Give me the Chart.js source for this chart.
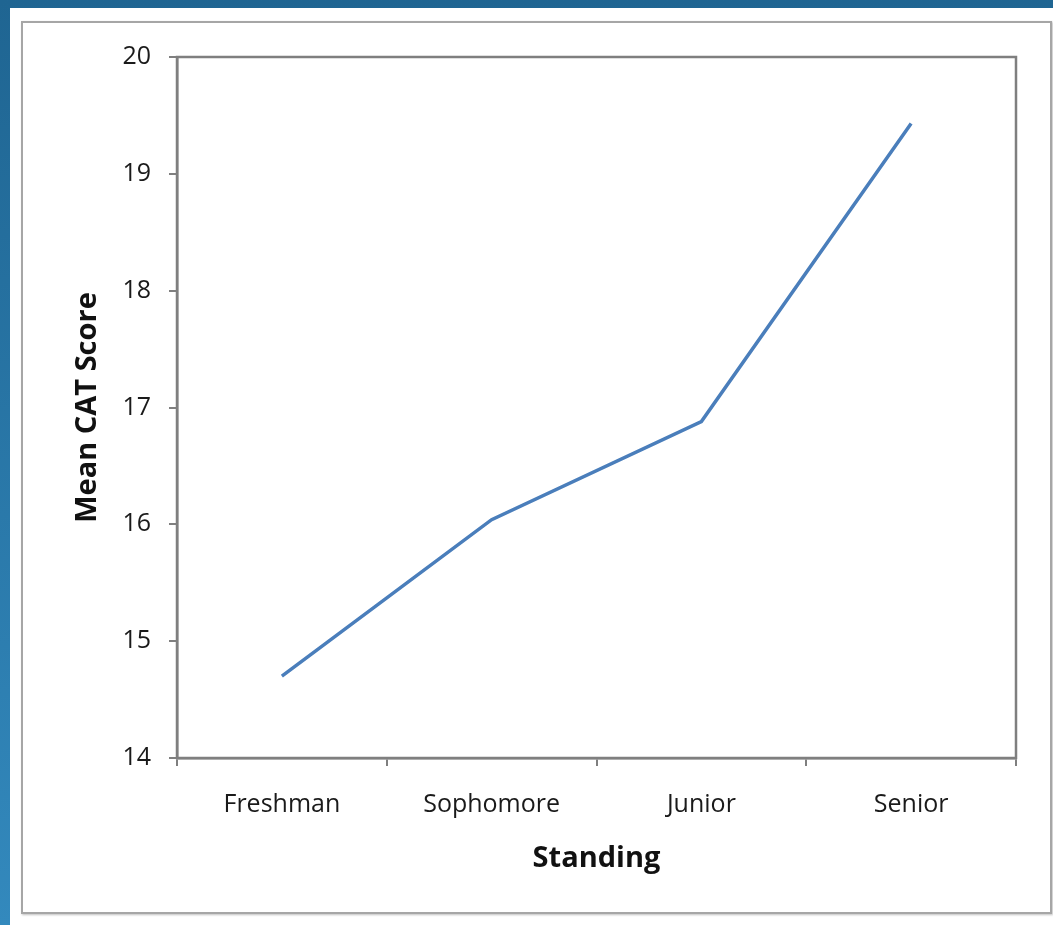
<!DOCTYPE html>
<html>
<head>
<meta charset="utf-8">
<script src="https://cdn.jsdelivr.net/npm/chart.js@4.4.1/dist/chart.umd.min.js"></script>
<style>
    html, body { margin: 0; padding: 0; }
    body {
        width: 1053px; height: 925px; overflow: hidden;
        background: linear-gradient(to bottom, #1f6592, #3389bd);
        position: relative;
    }
    #panel {
        position: absolute; left: 10px; top: 8px; width: 1043px; height: 917px;
        background: #fff;
    }
    #frame {
        position: absolute; left: 11px; top: 13px; width: 1027px; height: 889px;
        border: 2px solid #a6a6a6;
        box-shadow: 1px 1px 2px rgba(0,0,0,0.25);
    }
    #chart { display: block; }
</style>
</head>
<body>
<div id="panel">
    <div id="frame">
        <canvas id="chart" width="1027" height="889"></canvas>
    </div>
</div>
<script>
const standings = ['Freshman', 'Sophomore', 'Junior', 'Senior'];
const meanScores = [14.70, 16.04, 16.88, 19.43];
const yMin = 14, yMax = 20, yStep = 1;

const font = '"Open Sans", "DejaVu Sans", sans-serif';

// full box around the plot area, like the original
const plotBox = {
    id: 'plotBox',
    afterDatasetsDraw(chart) {
        const { ctx, chartArea: a } = chart;
        ctx.save();
        ctx.strokeStyle = '#7f7f7f';
        ctx.lineWidth = 2.5;
        ctx.strokeRect(a.left, a.top, a.right - a.left, a.bottom - a.top);
        ctx.restore();
    }
};

new Chart(document.getElementById('chart'), {
    type: 'line',
    data: {
        labels: standings,
        datasets: [{
            label: 'Mean CAT Score',
            data: meanScores,
            borderColor: '#4a7ebb',
            borderWidth: 3.5,
            pointRadius: 0,
            tension: 0,
            fill: false
        }]
    },
    options: {
        responsive: false,
        animation: false,
        layout: { padding: { left: 0, top: 34, right: 34, bottom: 0 } },
        plugins: {
            legend: { display: false },
            tooltip: { enabled: false }
        },
        scales: {
            x: {
                offset: true,
                grid: {
                    offset: true,
                    drawOnChartArea: false,
                    tickLength: 8,
                    color: '#7f7f7f',
                    lineWidth: 2
                },
                border: { color: '#7f7f7f', width: 2.5 },
                ticks: {
                    color: '#1a1a1a',
                    font: { family: font, size: 25 },
                    padding: 24,
                    maxRotation: 0
                },
                title: {
                    display: true,
                    text: 'Standing',
                    color: '#111',
                    font: { family: font, size: 29, weight: 'bold' },
                    padding: { top: 0, bottom: 36 }
                },
                afterFit: s => { s.height = 154; }
            },
            y: {
                min: yMin,
                max: yMax,
                grid: {
                    drawOnChartArea: false,
                    tickLength: 8,
                    color: '#7f7f7f',
                    lineWidth: 2
                },
                border: { color: '#7f7f7f', width: 2.5 },
                ticks: {
                    stepSize: yStep,
                    color: '#1a1a1a',
                    font: { family: font, size: 25 },
                    padding: 18
                },
                title: {
                    display: true,
                    text: 'Mean CAT Score',
                    color: '#111',
                    font: { family: font, size: 29, weight: 'bold' },
                    padding: { top: 47, bottom: 0 }
                },
                afterFit: s => { s.width = 154; }
            }
        }
    },
    plugins: [plotBox]
});
</script>
</body>
</html>
